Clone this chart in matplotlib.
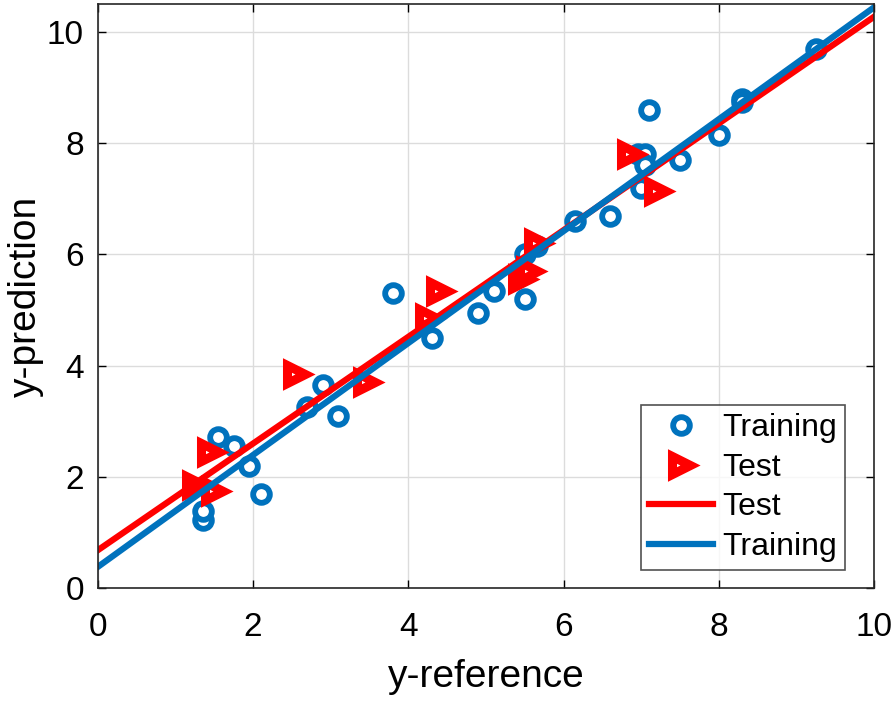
import numpy as np
import matplotlib.pyplot as plt

plt.rcParams['font.family'] = ['Liberation Sans', 'DejaVu Sans']

train_x = [1.35, 1.35, 1.55, 1.75, 1.95, 2.1, 2.7, 2.9, 3.1, 3.8, 4.3, 4.9, 5.1, 5.5, 5.5,
           5.65, 6.15, 6.6, 6.95, 7.05, 7.0, 7.05, 7.1, 7.5, 8.0, 8.3, 8.3, 9.25]
train_y = [1.22, 1.38, 2.72, 2.55, 2.2, 1.7, 3.25, 3.65, 3.1, 5.3, 4.5, 4.95, 5.35, 5.2, 6.0,
           6.15, 6.6, 6.7, 7.8, 7.8, 7.2, 7.6, 8.6, 7.7, 8.15, 8.8, 8.75, 9.7]
test_x = [1.25, 1.5, 1.45, 2.55, 3.45, 4.25, 4.4, 5.45, 5.55, 5.65, 6.85, 7.2]
test_y = [1.85, 1.75, 2.45, 3.85, 3.7, 4.85, 5.35, 5.55, 5.7, 6.2, 7.8, 7.15]

# fitted lines: (slope, intercept)
test_fit = (0.96, 0.68)
train_fit = (1.007, 0.38)

blue = '#0072BD'
red = '#FF0000'

fig = plt.figure(figsize=(8.96, 7.01), dpi=100)
ax = fig.add_axes([0.109, 0.161, 0.867, 0.833])

ax.plot(train_x, train_y, 'o', markersize=12, markerfacecolor='white',
        markeredgecolor=blue, markeredgewidth=4.2, linestyle='none', label='Training')
ax.plot(test_x, test_y, '>', markersize=13, markerfacecolor='white',
        markeredgecolor=red, markeredgewidth=6.5, linestyle='none', label='Test')

xl = np.array([0, 10])
ax.plot(xl, test_fit[0] * xl + test_fit[1], color=red, linewidth=4.5, label='Test')
ax.plot(xl, train_fit[0] * xl + train_fit[1], color=blue, linewidth=4.5, label='Training')

ax.set_xlim(0, 10)
ax.set_ylim(0, 10.5)
ax.set_xticks([0, 2, 4, 6, 8, 10])
ax.set_yticks([0, 2, 4, 6, 8, 10])
ax.grid(True, color='#dcdcdc', linewidth=1)
ax.set_axisbelow(True)
ax.tick_params(direction='in', length=6, width=1, labelsize=24, top=True, right=True)
ax.tick_params(axis='x', pad=17)
ax.tick_params(axis='y', pad=10)
for s in ax.spines.values():
    s.set_linewidth(1.2)
    s.set_color('#262626')

ax.set_xlabel('y-reference', fontsize=28, labelpad=12)
ax.set_ylabel('y-prediction', fontsize=28, labelpad=2)

leg = ax.legend(loc='lower right', fontsize=23, frameon=True, fancybox=False,
                edgecolor='#262626', handlelength=2.0, handletextpad=0.3, borderpad=0.25,
                labelspacing=0.3, borderaxespad=0, bbox_to_anchor=(0.962, 0.031))
leg.get_frame().set_linewidth(1.2)

fig.savefig('out.png', dpi=100)
